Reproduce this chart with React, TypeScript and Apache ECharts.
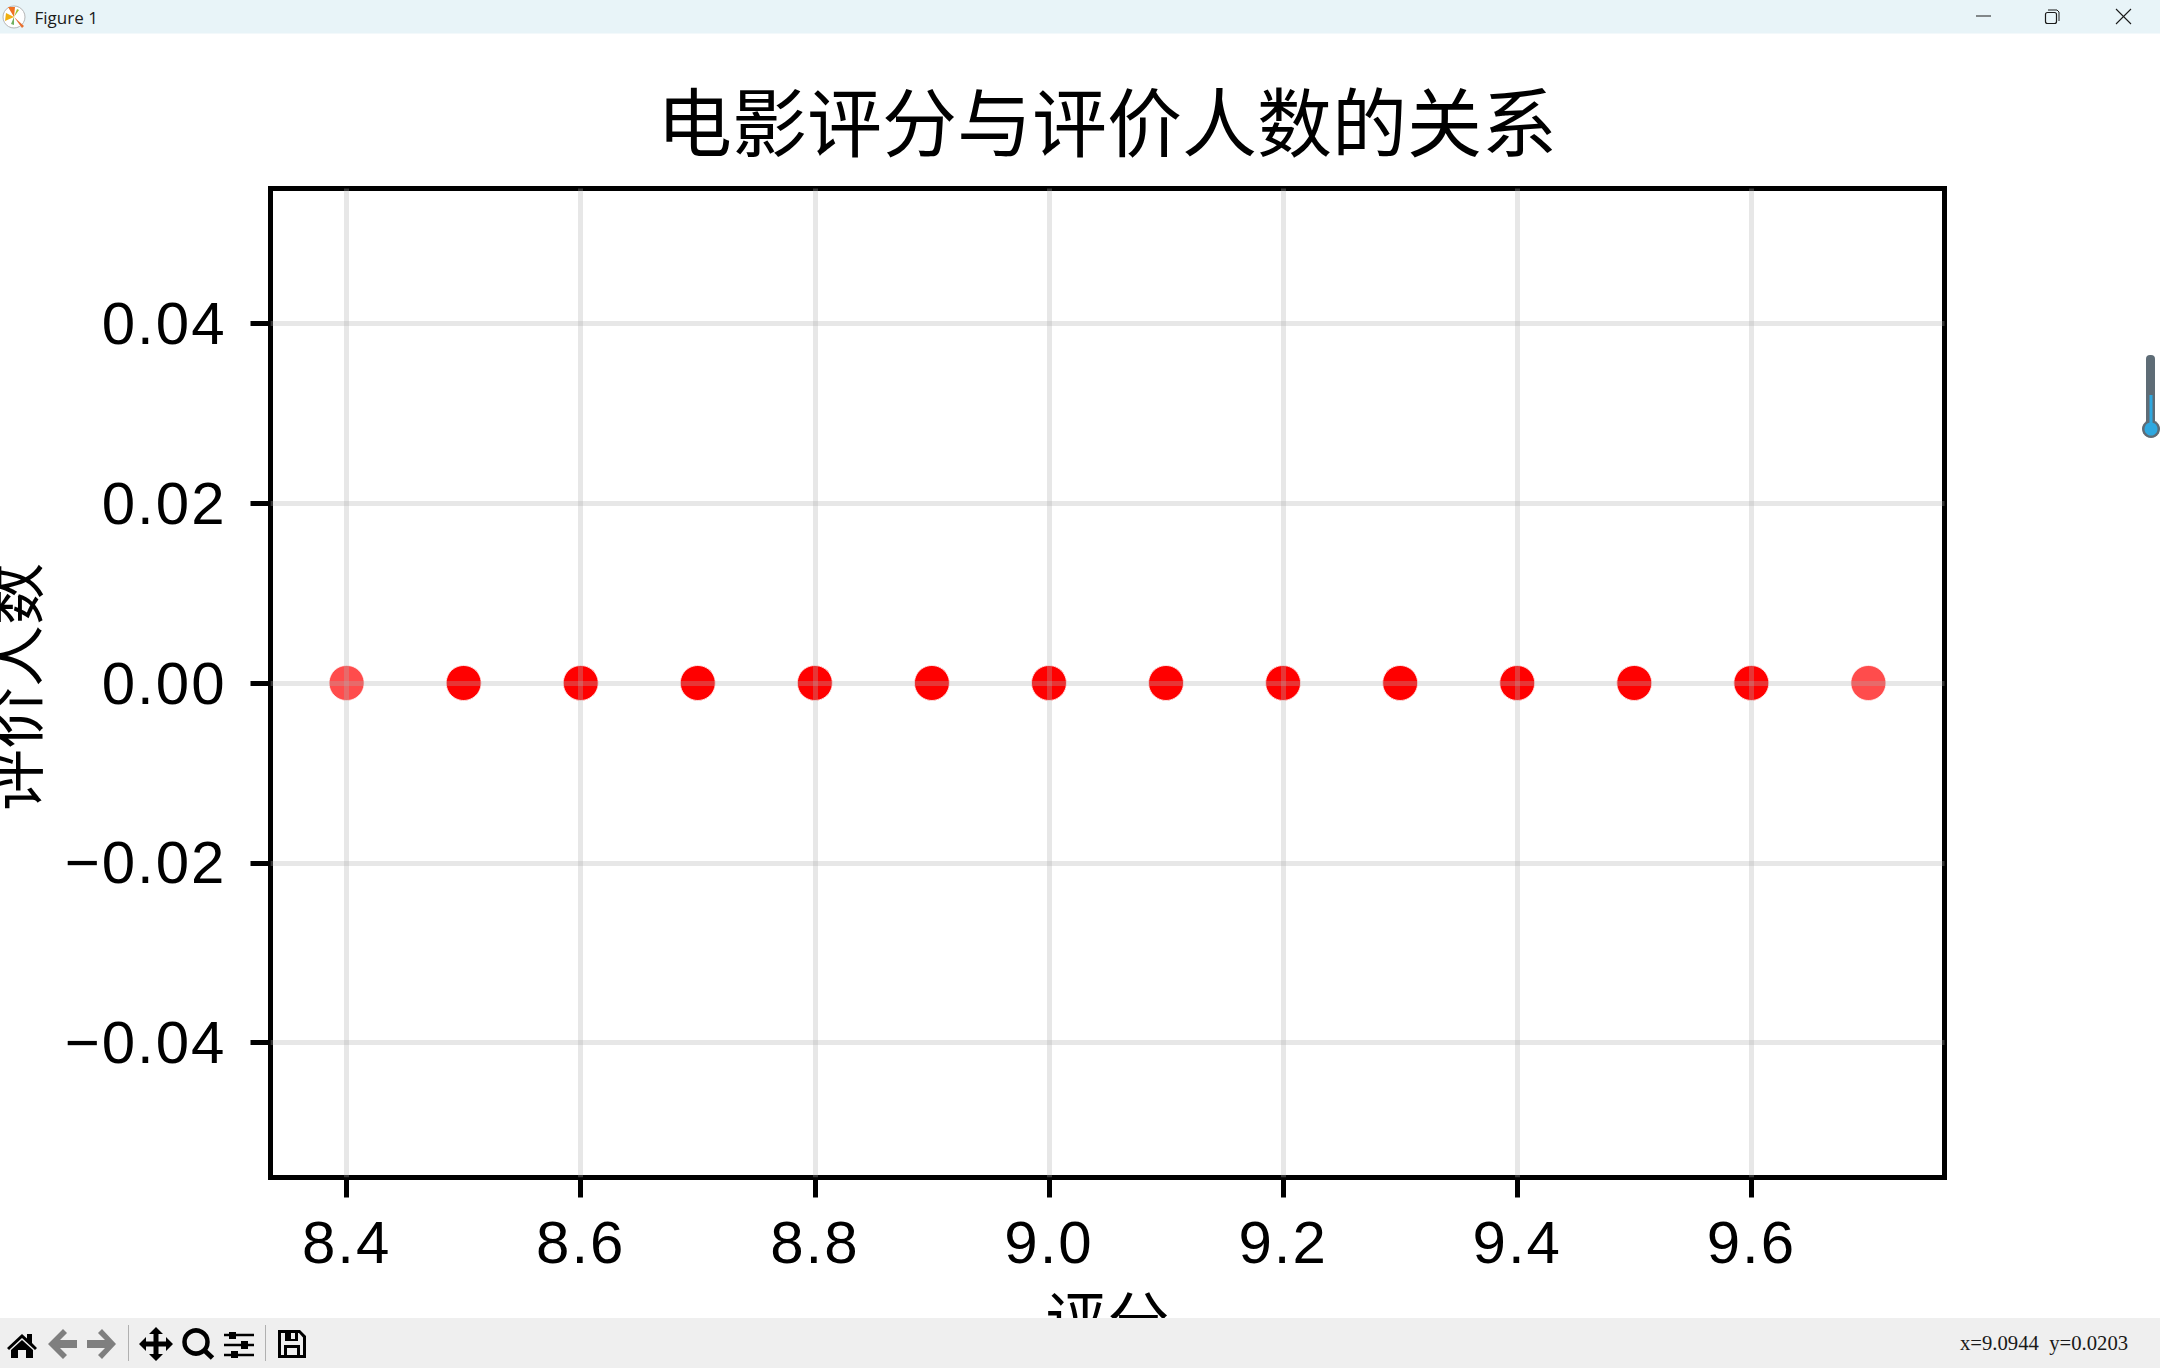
import React, { useEffect, useRef } from "react";
import * as echarts from "echarts";

const titleText = "电影评分与评价人数的关系";
const xName = "评分";
const yName = "评价人数";
const ratings = [8.4, 8.5, 8.6, 8.7, 8.8, 8.9, 9.0, 9.1, 9.2, 9.3, 9.4, 9.5, 9.6, 9.7];
const movieCounts = [1, 4, 6, 8, 8, 8, 8, 8, 8, 8, 6, 4, 4, 1];
const reviewers = [0, 0, 0, 0, 0, 0, 0, 0, 0, 0, 0, 0, 0, 0];
const xTicks = [8.4, 8.6, 8.8, 9.0, 9.2, 9.4, 9.6];
const yTicks = [-0.04, -0.02, 0, 0.02, 0.04];

const CJK = '"Noto Sans CJK SC"';
const NUM = '"Liberation Sans", Arial, sans-serif';

const P: Record<string, string> = {
  home: "M7 1348 L22 1334 L27 1338.5 L27 1334 L32 1334 L32 1343 L37 1348 L35 1350 L22 1338 L9 1350 Z M11 1350 L22 1340 L33 1350 L33 1358 L26 1358 L26 1350 L18 1350 L18 1358 L11 1358 Z",
  back: "M63 1329 L67 1333 L60 1340 L77 1340 L77 1348 L60 1348 L67 1355 L63 1359 L48 1344 Z",
  forward: "M102 1329 L98 1333 L105 1340 L87 1340 L87 1348 L105 1348 L98 1355 L102 1359 L116 1344 Z",
  move: "M156 1327 L163 1334 L158.5 1334 L158.5 1341.5 L166 1341.5 L166 1337 L173 1344 L166 1351 L166 1346.5 L158.5 1346.5 L158.5 1354 L163 1354 L156 1361 L149 1354 L153.5 1354 L153.5 1346.5 L146 1346.5 L146 1351 L139 1344 L146 1337 L146 1341.5 L153.5 1341.5 L153.5 1334 L149 1334 Z",
  save: "M278 1330 L300 1330 L306 1336 L306 1358 L278 1358 Z M281 1333 L281 1355 L284 1355 L284 1345 L300 1345 L300 1355 L303 1355 L303 1337.5 L299 1333 L298 1333 L298 1341 L285 1341 L285 1333 Z M287 1348 L287 1355 L297 1355 L297 1348 Z M291 1333 L291 1339 L295 1339 L295 1333 Z",
  appA: "M14 17 L8 7 L15 7 Z",
  appB: "M14 17 L6 13 L5 21 Z",
  appC: "M14 17 L24 26 L22 28 Z",
  appD: "M14 17 L19 10 L17 9 Z",
  appE: "M14 17 L11 24 L14 25 Z",
};
Object.keys(P).forEach((k) => {
  echarts.graphic.registerShape("ui_" + k, echarts.graphic.extendPath(P[k], {}));
});

const points: number[][] = [];
ratings.forEach((r, i) => {
  for (let n = 0; n < movieCounts[i]; n++) points.push([r, reviewers[i]]);
});

const shape = (k: string, fill: string) => ({ type: "ui_" + k, z: 101, silent: true, style: { fill } });
const line = (x1: number, y1: number, x2: number, y2: number, stroke: string, lineWidth = 1) => ({
  type: "line", z: 101, silent: true, shape: { x1, y1, x2, y2 }, style: { stroke, lineWidth },
});
const rect = (x: number, y: number, width: number, height: number, fill: string, z = 100) => ({
  type: "rect", z, silent: true, shape: { x, y, width, height }, style: { fill },
});

const uiElements: any[] = [
  rect(0, 0, 2160, 33.5, "#e8f4f8"),
  rect(0, 1318, 2160, 50, "#efefef"),
  { type: "circle", z: 101, silent: true, shape: { cx: 14, cy: 17, r: 11 }, style: { fill: "#ffffff", stroke: "#b5b5b5", lineWidth: 1 } },
  shape("appA", "#f07020"), shape("appB", "#f0b010"), shape("appC", "#e87030"), shape("appD", "#a0c030"), shape("appE", "#70b060"),
  { type: "text", z: 101, silent: true, x: 34.5, y: 17.5, style: { text: "Figure 1", font: '17px "Open Sans", sans-serif', fill: "#1a1a1a", verticalAlign: "middle" } },
  line(1976, 16, 1991, 16, "#1a1a1a", 1),
  { type: "rect", z: 101, silent: true, shape: { x: 2045.5, y: 12.5, width: 11, height: 11, r: 2 }, style: { fill: "none", stroke: "#1a1a1a", lineWidth: 1.2 } },
  { type: "polyline", z: 101, silent: true, shape: { points: [[2048, 10], [2057, 10], [2059, 12], [2059, 21]] }, style: { fill: "none", stroke: "#1a1a1a", lineWidth: 1 } },
  line(2116, 9, 2131, 24, "#1a1a1a", 1.1),
  line(2131, 9, 2116, 24, "#1a1a1a", 1.1),
  shape("home", "#000000"),
  shape("back", "#7f7f7f"),
  shape("forward", "#7f7f7f"),
  line(128.5, 1325, 128.5, 1361, "#b0b0b0", 1),
  shape("move", "#000000"),
  { type: "circle", z: 101, silent: true, shape: { cx: 196, cy: 1342, r: 11.5 }, style: { fill: "none", stroke: "#000000", lineWidth: 4.5 } },
  line(204, 1350, 212.5, 1358, "#000000", 5),
  line(224, 1335, 254, 1335, "#000000", 2.5),
  line(224, 1345, 254, 1345, "#000000", 2.5),
  line(224, 1355, 254, 1355, "#000000", 2.5),
  rect(229, 1332, 7, 7, "#000000", 102),
  rect(241, 1341, 7, 8, "#000000", 102),
  rect(231, 1351, 7, 7, "#000000", 102),
  line(265.5, 1325, 265.5, 1361, "#b0b0b0", 1),
  shape("save", "#000000"),
  { type: "text", z: 101, silent: true, x: 1960, y: 1343, style: { text: "x=9.0944  y=0.0203", font: '20.7px "Liberation Serif", serif', fill: "#1a1a1a", verticalAlign: "middle" } },
  { type: "rect", z: 101, silent: true, shape: { x: 2146, y: 355, width: 9, height: 72, r: 4 }, style: { fill: "#5e6c76" } },
  { type: "circle", z: 101, silent: true, shape: { cx: 2151, cy: 429, r: 9 }, style: { fill: "#5e6c76" } },
  rect(2149.5, 395, 3, 32, "#2fa8e0", 102),
  { type: "circle", z: 102, silent: true, shape: { cx: 2151, cy: 429, r: 6.5 }, style: { fill: "#2fa8e0" } },
];

export default function App() {
  const ref = useRef<HTMLDivElement>(null);
  useEffect(() => {
    document.body.style.margin = "0";
    const chart = echarts.init(ref.current!, undefined, { renderer: "svg" });
    chart.setOption({
      animation: false,
      backgroundColor: "#ffffff",
      title: {
        text: titleText,
        left: 657,
        top: 81,
        padding: 0,
        textStyle: { fontFamily: CJK, fontSize: 75, fontWeight: 400, color: "#000000" },
      },
      grid: {
        left: 270.5, right: 215.5, top: 188.5, bottom: 190.5,
        outerBoundsMode: "none", containLabel: false,
        show: true, borderColor: "#000000", borderWidth: 5, backgroundColor: "transparent",
      },
      xAxis: {
        type: "value", min: 8.335, max: 9.765, z: 3,
        name: xName, nameLocation: "middle", nameGap: 108,
        nameTextStyle: { fontFamily: CJK, fontSize: 62, color: "#000000" },
        axisLine: { show: false, onZero: false },
        axisTick: { show: true, length: 20, lineStyle: { color: "#000000", width: 5 }, customValues: xTicks },
        axisLabel: {
          show: true, margin: 35, fontFamily: NUM, fontSize: 60, color: "#000000",
          customValues: xTicks, formatter: (v: number) => v.toFixed(1),
        },
        splitLine: { show: true, lineStyle: { color: "rgba(176,176,176,0.3)", width: 5 } },
      },
      yAxis: {
        type: "value", min: -0.055, max: 0.055, z: 3,
        name: yName, nameLocation: "middle", nameGap: 229,
        nameTextStyle: { fontFamily: CJK, fontSize: 62, color: "#000000", padding: [0, 8, 0, 0] },
        axisLine: { show: false, onZero: false },
        axisTick: { show: true, length: 20, lineStyle: { color: "#000000", width: 5 }, customValues: yTicks },
        axisLabel: {
          show: true, margin: 44, fontFamily: NUM, fontSize: 60, color: "#000000",
          customValues: yTicks, formatter: (v: number) => v.toFixed(2).replace("-", "\u2212"),
        },
        splitLine: { show: true, lineStyle: { color: "rgba(176,176,176,0.3)", width: 5 } },
      },
      series: [
        {
          type: "scatter",
          data: points,
          symbol: "circle",
          symbolSize: 35,
          silent: true,
          itemStyle: { color: "#ff0000", opacity: 0.7, borderColor: "#ffffff", borderWidth: 1 },
        },
      ],
      graphic: { elements: uiElements },
    });
    return () => chart.dispose();
  }, []);
  return (
    <>
      <style>{'text[style*="Liberation Sans"]{letter-spacing:2px}'}</style>
      <div ref={ref} style={{ position: "absolute", left: 0, top: 0, width: 2160, height: 1368 }} />
    </>
  );
}
